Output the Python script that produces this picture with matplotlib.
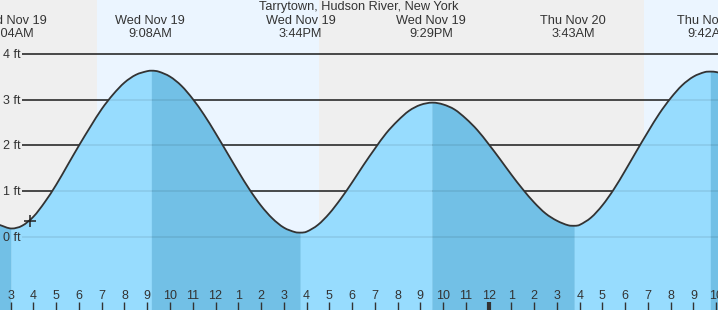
import matplotlib
matplotlib.use('Agg')
import matplotlib.pyplot as plt
from matplotlib.path import Path
from matplotlib.patches import PathPatch
from matplotlib.transforms import blended_transform_factory

plt.rcParams['font.family'] = ['Liberation Sans', 'DejaVu Sans']

# hours since midnight Nov 19, tide height in feet
hours = [2.5, 3.04, 3.5, 4.0, 4.5, 5.0, 5.5, 6.0, 6.5, 7.0, 7.5, 8.0, 8.5, 9.0, 9.21,
         9.5, 10.0, 10.5, 11.0, 11.5, 12.0, 12.5, 13.0, 13.5, 14.0, 14.5, 15.0, 15.5, 15.75,
         16.0, 16.5, 17.0, 17.5, 18.0, 18.5, 19.0, 19.5, 20.0, 20.5, 21.0, 21.54,
         22.0, 22.5, 23.0, 23.5, 24.0, 24.5, 25.0, 25.5, 26.0, 26.5, 27.0, 27.5, 27.79,
         28.0, 28.5, 29.0, 29.5, 30.0, 30.5, 31.0, 31.5, 32.0, 32.5, 33.0, 33.5, 33.77,
         34.0, 34.5]
feet = [0.26, 0.18, 0.24, 0.44, 0.76, 1.14, 1.57, 2.00, 2.41, 2.80, 3.12, 3.38, 3.55, 3.63, 3.64,
        3.62, 3.51, 3.31, 3.02, 2.67, 2.27, 1.85, 1.43, 1.03, 0.68, 0.40, 0.20, 0.10, 0.09,
        0.11, 0.26, 0.51, 0.83, 1.19, 1.57, 1.93, 2.27, 2.54, 2.76, 2.89, 2.94,
        2.90, 2.79, 2.59, 2.34, 2.03, 1.70, 1.36, 1.04, 0.75, 0.51, 0.35, 0.25, 0.24,
        0.26, 0.42, 0.69, 1.04, 1.45, 1.88, 2.30, 2.70, 3.04, 3.32, 3.51, 3.61, 3.62,
        3.61, 3.55]

# turning points of the curve (low, high, low, ...)
turn_hours = [3.04, 9.21, 15.75, 21.54, 27.79, 33.77]

# predicted high/low labels
label_hours = [3.067, 9.133, 15.733, 21.483, 27.717, 33.70]
label_days = ['Wed Nov 19', 'Wed Nov 19', 'Wed Nov 19', 'Wed Nov 19', 'Thu Nov 20', 'Thu Nov 20']
label_times = ['3:04AM', '9:08AM', '3:44PM', '9:29PM', '3:43AM', '9:42AM']

# daylight
day_spans = [(6.79, 16.56), (30.83, 36.0)]

now_hour, now_feet = 3.86, 0.34

ft_levels = [0, 1, 2, 3, 4]
hour_ticks = list(range(3, 35))
hour_labels = ['3', '4', '5', '6', '7', '8', '9', '10', '11', '12', '1', '2', '3', '4', '5', '6',
               '7', '8', '9', '10', '11', '12', '1', '2', '3', '4', '5', '6', '7', '8', '9', '10']

x0, x1 = 2.530, 34.077
y0, y1 = -1.607, 5.19
night_col = '#efefef'
day_col = '#ebf5ff'
rise_col = '#97dcfe'
fall_col = '#72c0e6'
ink = '#333333'


def slope(i):
    # flat at the turning points, centred difference elsewhere
    if hours[i] in turn_hours:
        return 0.0
    a = max(i - 1, 0)
    b = min(i + 1, len(hours) - 1)
    return (feet[b] - feet[a]) / (hours[b] - hours[a])


def curve_verts(idx):
    verts = [(hours[idx[0]], feet[idx[0]])]
    codes = [Path.MOVETO]
    for i, j in zip(idx[:-1], idx[1:]):
        dt = (hours[j] - hours[i]) / 3.0
        verts += [(hours[i] + dt, feet[i] + slope(i) * dt),
                  (hours[j] - dt, feet[j] - slope(j) * dt),
                  (hours[j], feet[j])]
        codes += [Path.CURVE4] * 3
    return verts, codes


fig = plt.figure(figsize=(7.18, 3.10), dpi=100)
ax = fig.add_axes([0, 0, 1, 1])
ax.set_xlim(x0, x1)
ax.set_ylim(y0, y1)
ax.axis('off')
ax.add_patch(plt.Rectangle((x0, y0), x1 - x0, y1 - y0, color=night_col, zorder=0))
for a, b in day_spans:
    ax.axvspan(a, b, color=day_col, lw=0, zorder=0.5)

# grid lines behind water
px = (x1 - x0) / 718.0
for lv in ft_levels[1:]:
    ax.hlines(lv, x0 + 22 * px, x1, color='#222222', lw=1.1, zorder=1)

# water fill, darker while falling
bounds = [x0 - 1] + turn_hours + [x1 + 1]
for i in range(len(bounds) - 1):
    a, b = bounds[i], bounds[i + 1]
    idx = [k for k, h in enumerate(hours) if a <= h <= b]
    verts, codes = curve_verts(idx)
    verts += [(hours[idx[-1]], y0), (hours[idx[0]], y0), (hours[idx[0]], feet[idx[0]])]
    codes += [Path.LINETO, Path.LINETO, Path.CLOSEPOLY]
    col = fall_col if i % 2 == 0 else rise_col
    ax.add_patch(PathPatch(Path(verts, codes), facecolor=col, edgecolor=col, lw=0.3, zorder=2))

for lv in ft_levels:
    ax.hlines(lv, x0 + 22 * px, x1, color='#000000', alpha=0.09, lw=1.1, zorder=3)

verts, codes = curve_verts(list(range(len(hours))))
ax.add_patch(PathPatch(Path(verts, codes), facecolor='none', edgecolor=ink, lw=1.3, zorder=4))
ax.plot([now_hour], [now_feet], marker='+', ms=9, mew=1.1, color='#222222', zorder=5)

# left feet labels
yp = 45.6
for lv in ft_levels:
    ax.text(x0 + 3 * px, lv - 4.0 / yp, f'{lv} ft', fontsize=9, color=ink,
            ha='left', va='baseline', zorder=6)

# top labels
tr = blended_transform_factory(ax.transData, ax.transAxes)
ax.text(0.5, 1 - 10.3 / 310, 'Tarrytown, Hudson River, New York', transform=ax.transAxes,
        fontsize=9.2, color=ink, ha='center', va='baseline')
for h, d, t in zip(label_hours, label_days, label_times):
    ax.text(h, 1 - 24.0 / 310, d, transform=tr, fontsize=9.2, color=ink,
            ha='center', va='baseline')
    ax.text(h, 1 - 36.7 / 310, t, transform=tr, fontsize=9.2, color=ink,
            ha='center', va='baseline')

# bottom hour ticks
tick_top = y0 + 8.0 / yp
for h, lab in zip(hour_ticks, hour_labels):
    w = 3 if h == 24 else 1
    ax.vlines(h, y0, tick_top, color=ink, lw=w, zorder=6)
    ax.text(h, y0 + 10.7 / yp, lab, fontsize=9, color=ink, ha='center', va='baseline', zorder=6)

fig.savefig('out.png', dpi=100)
